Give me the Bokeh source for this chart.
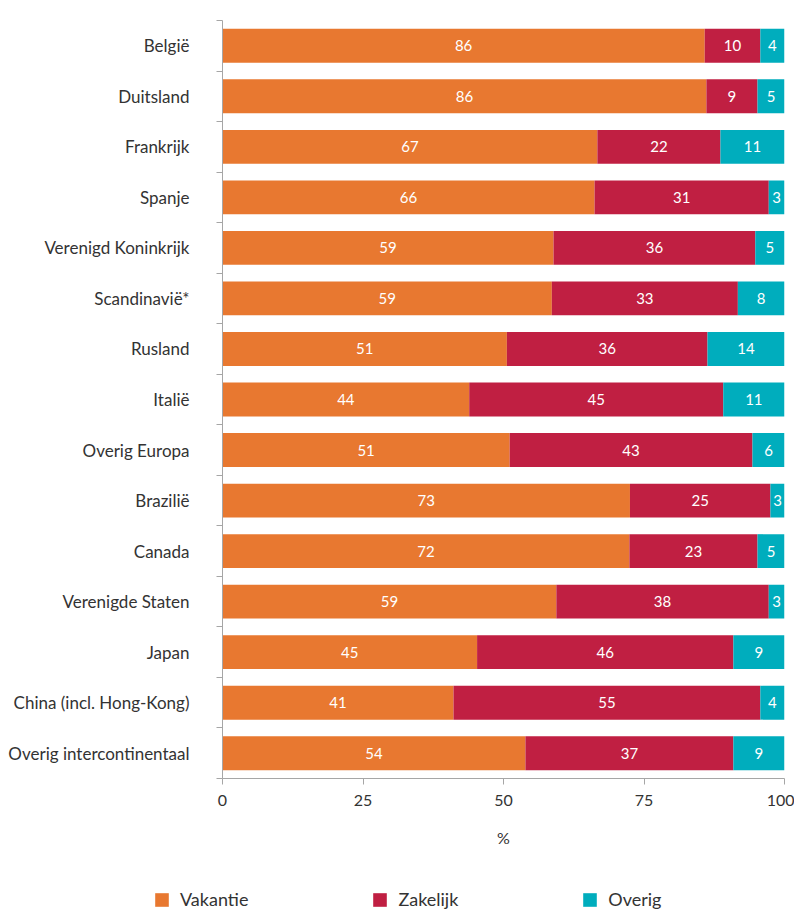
import numpy as np
from bokeh.plotting import figure
from bokeh.layouts import column, row
from bokeh.models import (ColumnDataSource, Range1d, FixedTicker, Legend, LegendItem)
from bokeh.core.properties import value
from bokeh.embed import file_html
from bokeh.resources import INLINE

categories = ["België", "Duitsland", "Frankrijk", "Spanje", "Verenigd Koninkrijk",
              "Scandinavië*", "Rusland", "Italië", "Overig Europa", "Brazilië",
              "Canada", "Verenigde Staten", "Japan", "China (incl. Hong-Kong)",
              "Overig intercontinentaal"]
vakantie = [85.8, 86.1, 66.7, 66.2, 58.9, 58.6, 50.6, 43.9, 51.1, 72.5, 72.4, 59.4, 45.3, 41.1, 53.9]
zakelijk = [9.9, 9.1, 21.9, 31.0, 35.9, 33.1, 35.7, 45.2, 43.2, 25.0, 22.8, 37.8, 45.6, 54.6, 37.0]
overig = [4.3, 4.8, 11.4, 2.8, 5.2, 8.3, 13.7, 10.9, 5.7, 2.5, 4.8, 2.8, 9.1, 4.3, 9.1]
series_names = ["Vakantie", "Zakelijk", "Overig"]
x_ticks = [0, 25, 50, 75, 100]
x_title = "%"

colors = ["#E87830", "#C01F42", "#00ADBD"]
FONT = "Lato"
TXT = "#333333"

idx = np.arange(len(categories))
series = [np.array(vakantie), np.array(zakelijk), np.array(overig)]

p = figure(width=794, height=885, x_range=Range1d(0, 100), y_range=Range1d(14.5, -0.5),
           output_backend="svg", toolbar_location=None,
           min_border_left=222, min_border_right=10, min_border_top=20, min_border_bottom=107)
p.xgrid.visible = False
p.ygrid.visible = False
p.outline_line_color = None
p.background_fill_color = "white"

# legend strip below the chart (its own view range keeps the bars out of sight)
lg = figure(width=794, height=25, x_range=Range1d(0, 100), y_range=Range1d(100, 101),
            output_backend="svg", toolbar_location=None,
            x_axis_type=None, y_axis_type=None, min_border=0,
            min_border_left=153, min_border_right=0, min_border_top=3, min_border_bottom=0)
lg.xgrid.visible = False
lg.ygrid.visible = False
lg.outline_line_color = None

left = np.zeros(len(categories))
items = []
for name, vals, col in zip(series_names, series, colors):
    right = left + vals
    src = ColumnDataSource(dict(y=idx, left=left, right=right,
                                mid=(left + right) / 2,
                                lab=[str(int(v + 0.5)) for v in vals]))
    p.hbar(y="y", left="left", right="right", height=0.67, source=src,
           fill_color=col, line_color=None)
    p.text(x="mid", y="y", text="lab", source=src, text_align="center",
           text_baseline="middle", text_color="white",
           text_font=value(FONT), text_font_size="15px")
    r = lg.hbar(y="y", left="left", right="right", height=0.67, source=src,
                fill_color=col, line_color=None)
    items.append(LegendItem(label=name, renderers=[r]))
    left = right

# x axis
xa = p.xaxis[0]
xa.ticker = FixedTicker(ticks=x_ticks)
xa.axis_line_color = "#A6A6A6"
xa.major_tick_line_color = "#A6A6A6"
xa.major_tick_out = 6
xa.major_tick_in = 0
xa.minor_tick_line_color = None
xa.major_label_text_font = FONT
xa.major_label_text_font_size = "16px"
xa.major_label_text_color = TXT
xa.major_label_standoff = 10
xa.axis_label = x_title
xa.axis_label_text_font = FONT
xa.axis_label_text_font_size = "16px"
xa.axis_label_text_font_style = "normal"
xa.axis_label_text_color = TXT
xa.axis_label_standoff = 19

# y axis
ya = p.yaxis[0]
ya.ticker = FixedTicker(ticks=list(idx), minor_ticks=[i - 0.5 for i in range(len(categories) + 1)])
ya.major_label_overrides = {int(i): c for i, c in zip(idx, categories)}
ya.axis_line_color = "#A6A6A6"
ya.major_tick_line_color = None
ya.major_tick_out = 0
ya.major_tick_in = 0
ya.minor_tick_line_color = "#A6A6A6"
ya.minor_tick_out = 6
ya.minor_tick_in = 0
ya.major_label_text_font = FONT
ya.major_label_text_font_size = "17px"
ya.major_label_text_color = TXT
ya.major_label_standoff = 27

legend = Legend(items=items, orientation="horizontal", location="top_left", padding=0, margin=0,
                spacing=123, glyph_width=17, glyph_height=17, label_standoff=10,
                label_height=17, border_line_color=None, background_fill_alpha=0,
                label_text_font=FONT, label_text_font_size="18px", label_text_color=TXT)
lg.add_layout(legend)

layout = column(p, row(lg), spacing=0)
open("out.html", "w").write(file_html(layout, INLINE))
